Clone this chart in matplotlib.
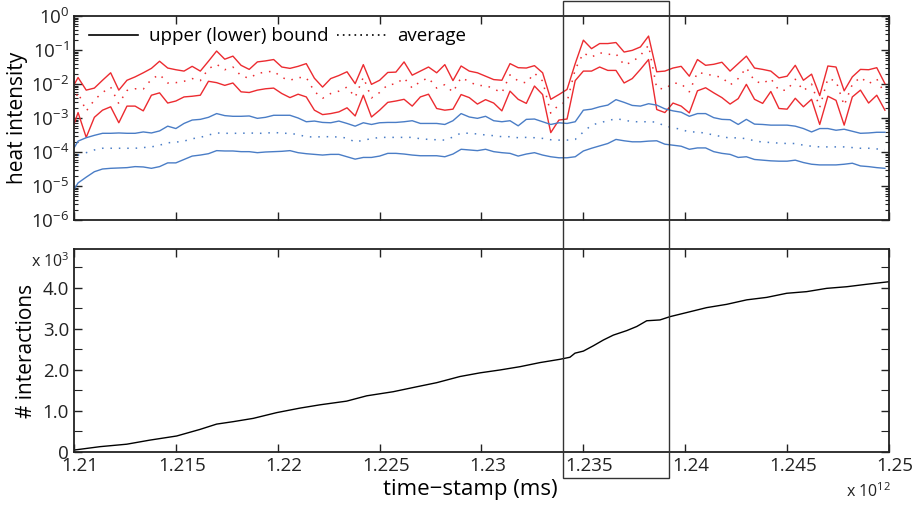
import numpy as np
import matplotlib
matplotlib.use("Agg")
import matplotlib.pyplot as plt
from matplotlib.lines import Line2D
from matplotlib.patches import Rectangle
from matplotlib.ticker import FixedLocator, FuncFormatter, LogLocator, NullFormatter
from matplotlib.transforms import ScaledTranslation, blended_transform_factory

plt.rcParams["font.family"] = ["Open Sans", "DejaVu Sans"]
plt.rcParams["mathtext.default"] = "regular"

# heat intensity bounds, log10 values, one sample every 0.0004e12 ms
t0 = 1.2098  # x 10^12 ms
dt = 0.0004
red_upper = [-2.24, -1.81, -2.18, -2.12, -1.89, -1.67, -2.18, -1.89, -1.79, -1.67,
             -1.54, -1.33, -1.53, -1.58, -1.62, -1.48, -1.62, -1.33, -1.03, -1.27,
             -1.18, -1.45, -1.57, -1.35, -1.32, -1.28, -1.50, -1.54, -1.48, -1.40,
             -1.83, -2.09, -1.84, -1.75, -1.64, -1.99, -1.43, -2.01, -1.89, -1.66,
             -1.65, -1.35, -1.74, -1.62, -1.50, -1.67, -1.43, -1.90, -1.47, -1.62,
             -1.67, -1.77, -1.87, -1.89, -1.40, -1.52, -1.53, -1.46, -1.67, -2.45,
             -2.31, -2.16, -1.40, -0.71, -0.96, -0.81, -0.81, -0.78, -1.06, -1.01,
             -0.91, -0.59, -1.64, -1.62, -1.53, -1.48, -1.77, -1.28, -1.45, -1.42,
             -1.36, -1.62, -1.40, -1.18, -1.53, -1.57, -1.62, -1.82, -1.77, -1.45,
             -1.89, -1.71, -2.34, -1.47, -1.50, -2.20, -1.79, -1.57, -1.58, -1.52,
             -1.99]
red_lower = [-3.53, -2.84, -3.57, -2.98, -2.77, -2.67, -3.14, -2.65, -2.65, -2.79,
             -2.33, -2.26, -2.56, -2.50, -2.38, -2.36, -2.33, -1.92, -1.96, -2.04,
             -1.97, -2.23, -2.25, -2.18, -2.14, -2.12, -2.28, -2.40, -2.30, -2.38,
             -2.77, -2.90, -2.87, -2.82, -2.70, -2.94, -2.33, -2.97, -2.77, -2.54,
             -2.50, -2.45, -2.65, -2.38, -2.30, -2.72, -2.77, -2.74, -2.31, -2.40,
             -2.59, -2.46, -2.56, -2.79, -2.21, -2.45, -2.57, -2.06, -2.31, -3.43,
             -3.06, -3.03, -1.90, -1.62, -1.62, -1.50, -1.60, -1.60, -1.97, -1.84,
             -1.57, -1.28, -2.75, -2.84, -2.56, -2.65, -2.85, -2.20, -2.11, -2.26,
             -2.40, -2.59, -2.43, -2.01, -2.45, -2.57, -2.22, -2.72, -2.74, -2.42,
             -2.67, -2.45, -3.19, -2.36, -2.48, -3.21, -2.38, -2.18, -2.56, -2.33,
             -2.77]
red_avg = [-2.80, -2.25, -2.80, -2.47, -2.25, -2.09, -2.58, -2.19, -2.14, -2.15,
           -1.86, -1.72, -1.97, -1.96, -1.92, -1.84, -1.90, -1.55, -1.42, -1.58,
           -1.50, -1.76, -1.83, -1.69, -1.65, -1.62, -1.81, -1.89, -1.81, -1.81,
           -2.22, -2.42, -2.28, -2.21, -2.09, -2.39, -1.80, -2.41, -2.25, -2.02,
           -2.00, -1.82, -2.12, -1.92, -1.82, -2.12, -2.02, -2.24, -1.81, -1.93,
           -2.05, -2.04, -2.14, -2.26, -1.73, -1.91, -1.97, -1.68, -1.91, -2.86,
           -2.61, -2.52, -1.57, -1.09, -1.21, -1.08, -1.13, -1.11, -1.44, -1.35,
           -1.16, -0.86, -2.12, -2.15, -1.97, -1.99, -2.23, -1.66, -1.70, -1.76,
           -1.80, -2.03, -1.84, -1.52, -1.91, -1.99, -1.84, -2.19, -2.18, -1.86,
           -2.20, -2.00, -2.69, -1.84, -1.91, -2.63, -2.01, -1.80, -1.99, -1.85,
           -2.30]
blue_upper = [-4.09, -3.68, -3.58, -3.51, -3.45, -3.45, -3.44, -3.45, -3.45, -3.41,
              -3.44, -3.38, -3.24, -3.31, -3.16, -3.06, -3.04, -2.98, -2.87, -2.93,
              -2.95, -2.95, -2.94, -3.01, -2.98, -2.92, -2.92, -2.92, -3.00, -3.11,
              -3.09, -3.13, -3.14, -3.09, -3.16, -3.24, -3.14, -3.19, -3.14, -3.13,
              -3.13, -3.11, -3.08, -3.16, -3.16, -3.16, -3.19, -3.08, -2.87, -2.97,
              -3.01, -2.95, -3.08, -3.11, -3.08, -3.23, -3.04, -3.03, -3.11, -3.19,
              -3.14, -3.16, -3.11, -2.77, -2.74, -2.67, -2.62, -2.46, -2.54, -2.63,
              -2.65, -2.58, -2.62, -2.73, -2.79, -2.83, -2.95, -2.87, -2.87, -2.99,
              -3.04, -3.05, -3.19, -3.04, -3.18, -3.19, -3.21, -3.21, -3.21, -3.24,
              -3.31, -3.41, -3.31, -3.31, -3.36, -3.33, -3.39, -3.45, -3.44, -3.42,
              -3.42]
blue_lower = [-5.30, -4.91, -4.74, -4.58, -4.50, -4.48, -4.47, -4.46, -4.43, -4.44,
              -4.48, -4.43, -4.32, -4.32, -4.22, -4.12, -4.09, -4.05, -3.96, -3.97,
              -3.97, -3.99, -3.99, -4.02, -4.00, -3.99, -3.98, -3.96, -4.02, -4.05,
              -4.07, -4.09, -4.07, -4.07, -4.14, -4.21, -4.16, -4.16, -4.12, -4.04,
              -4.04, -4.06, -4.09, -4.11, -4.11, -4.11, -4.14, -4.06, -3.92, -3.94,
              -3.96, -3.92, -3.99, -4.02, -4.04, -4.12, -4.06, -4.02, -4.09, -4.14,
              -4.17, -4.17, -4.14, -3.97, -3.89, -3.82, -3.75, -3.63, -3.67, -3.70,
              -3.70, -3.68, -3.67, -3.77, -3.80, -3.83, -3.92, -3.88, -3.88, -3.99,
              -4.04, -4.07, -4.16, -4.14, -4.22, -4.24, -4.26, -4.27, -4.27, -4.24,
              -4.31, -4.36, -4.38, -4.38, -4.38, -4.36, -4.33, -4.41, -4.43, -4.46,
              -4.48]
blue_avg = [-4.18, -4.09, -4.02, -3.94, -3.89, -3.89, -3.89, -3.89, -3.89, -3.87,
            -3.85, -3.80, -3.73, -3.71, -3.68, -3.61, -3.57, -3.50, -3.44, -3.45,
            -3.45, -3.45, -3.44, -3.45, -3.45, -3.42, -3.45, -3.45, -3.49, -3.55,
            -3.56, -3.55, -3.55, -3.56, -3.59, -3.71, -3.65, -3.61, -3.57, -3.57,
            -3.57, -3.57, -3.57, -3.61, -3.63, -3.64, -3.65, -3.56, -3.44, -3.45,
            -3.47, -3.50, -3.52, -3.55, -3.55, -3.58, -3.57, -3.58, -3.60, -3.64,
            -3.65, -3.65, -3.63, -3.41, -3.21, -3.14, -3.08, -3.02, -3.06, -3.11,
            -3.11, -3.11, -3.12, -3.24, -3.28, -3.34, -3.41, -3.41, -3.45, -3.50,
            -3.55, -3.59, -3.58, -3.61, -3.67, -3.71, -3.72, -3.74, -3.75, -3.75,
            -3.80, -3.83, -3.85, -3.85, -3.85, -3.85, -3.87, -3.89, -3.89, -3.91,
            -3.93]

# cumulative interactions
int_time = [1.21005, 1.21128, 1.21259, 1.21373, 1.21504, 1.21618, 1.21700, 1.21782, 1.21880, 1.21995,
            1.22109, 1.22207, 1.22338, 1.22437, 1.22567, 1.22682, 1.22780, 1.22894, 1.22993, 1.23091,
            1.23189, 1.23287, 1.23385, 1.23434, 1.23459, 1.23500, 1.23549, 1.23598, 1.23647, 1.23713,
            1.23762, 1.23811, 1.23876, 1.23925, 1.24007, 1.24105, 1.24203, 1.24302, 1.24400, 1.24498,
            1.24596, 1.24694, 1.24793, 1.24891, 1.24997]
int_count = [50, 130, 190, 290, 390, 550, 680, 740, 820, 960,
             1070, 1150, 1240, 1370, 1470, 1590, 1690, 1840, 1930, 2000,
             2080, 2180, 2260, 2310, 2410, 2460, 2590, 2730, 2850, 2960,
             3060, 3200, 3220, 3300, 3400, 3520, 3600, 3710, 3770, 3870,
             3910, 3990, 4030, 4090, 4150]

# highlighted window
win_start, win_end = 1.2340, 1.2392

xticks = [1.21, 1.215, 1.22, 1.225, 1.23, 1.235, 1.24, 1.245, 1.25]

RED = "#ec2b30"
BLUE = "#4a7dc6"
DOT = (0, (1, 4.5))


def style_axis(ax):
    for s in ax.spines.values():
        s.set_linewidth(1.3)
        s.set_color("#222222")
    ax.set_xlim(1.21, 1.25)
    ax.xaxis.set_major_locator(FixedLocator(xticks))
    ax.tick_params(which="both", direction="in", top=True, right=True,
                   labelsize=13.5, colors="#222222")
    ax.tick_params(which="major", length=6, width=1)
    ax.tick_params(which="minor", length=3, width=0.8)


def main():
    fig = plt.figure(figsize=(9.18, 5.07), dpi=100)
    ax1 = fig.add_axes([0.0806, 0.5661, 0.8878, 0.4023])
    ax2 = fig.add_axes([0.0806, 0.1085, 0.8878, 0.4004])

    t = t0 + dt * np.arange(len(red_upper))

    ax1.plot(t, 10 ** np.array(red_upper), color=RED, lw=1)
    ax1.plot(t, 10 ** np.array(red_lower), color=RED, lw=1)
    ax1.plot(t, 10 ** np.array(red_avg), color=RED, lw=1.1, ls=DOT)
    ax1.plot(t, 10 ** np.array(blue_upper), color=BLUE, lw=1)
    ax1.plot(t, 10 ** np.array(blue_lower), color=BLUE, lw=1)
    ax1.plot(t, 10 ** np.array(blue_avg), color=BLUE, lw=1.1, ls=DOT)

    ax1.set_yscale("log")
    ax1.set_ylim(1e-6, 1)
    style_axis(ax1)
    ax1.yaxis.set_major_locator(LogLocator(base=10, numticks=10))
    ax1.yaxis.set_minor_locator(LogLocator(base=10, subs=np.arange(2, 10), numticks=20))
    ax1.yaxis.set_minor_formatter(NullFormatter())
    ax1.set_xticklabels([])
    ax1.set_ylabel("heat intensity", fontsize=15, labelpad=2)

    handles = [Line2D([], [], color="black", lw=1.2),
               Line2D([], [], color="black", lw=1.2, ls=(0, (1, 2.5)))]
    ax1.legend(handles, ["upper (lower) bound", "average"], loc="upper left",
               ncol=2, frameon=False, fontsize=13.5, handlelength=2.6,
               handletextpad=0.6, columnspacing=0.45, borderaxespad=0.2,
               bbox_to_anchor=(0.005, 1.0))

    ax2.plot(int_time, np.array(int_count) / 1e3, color="black", lw=1)
    ax2.set_ylim(0, 4.95)
    style_axis(ax2)
    ax2.yaxis.set_major_locator(FixedLocator([0, 1, 2, 3, 4]))
    ax2.yaxis.set_minor_locator(FixedLocator([0.5, 1.5, 2.5, 3.5, 4.5]))
    ax2.yaxis.set_major_formatter(FuncFormatter(lambda v, p: "0" if v == 0 else "%.1f" % v))
    ax2.xaxis.set_major_formatter(FuncFormatter(lambda v, p: "%g" % v))
    ax2.tick_params(which="minor", length=6)
    ax2.set_ylabel("# interactions", fontsize=15, labelpad=4)
    ax2.set_xlabel("time\u2212stamp (ms)", fontsize=16)
    ax2.xaxis.set_label_coords(0.486, -0.135)
    shift = ScaledTranslation(6 / 100, 0, fig.dpi_scale_trans)
    for lab in ax2.get_xticklabels():
        lab.set_transform(lab.get_transform() + shift)

    fig.text(0.034, 0.474, r"x 10$^{3}$", fontsize=11.5, color="#222222")
    fig.text(0.922, 0.020, r"x 10$^{12}$", fontsize=11.5, color="#222222")

    trans = blended_transform_factory(ax2.transData, fig.transFigure)
    rect = Rectangle((win_start, 1 - 478 / 507), win_end - win_start, 478 / 507 - 0.001,
                     transform=trans, fill=False, edgecolor="#333333", lw=1,
                     clip_on=False)
    fig.add_artist(rect)

    fig.savefig("out.png", dpi=100)


if __name__ == "__main__":
    main()
